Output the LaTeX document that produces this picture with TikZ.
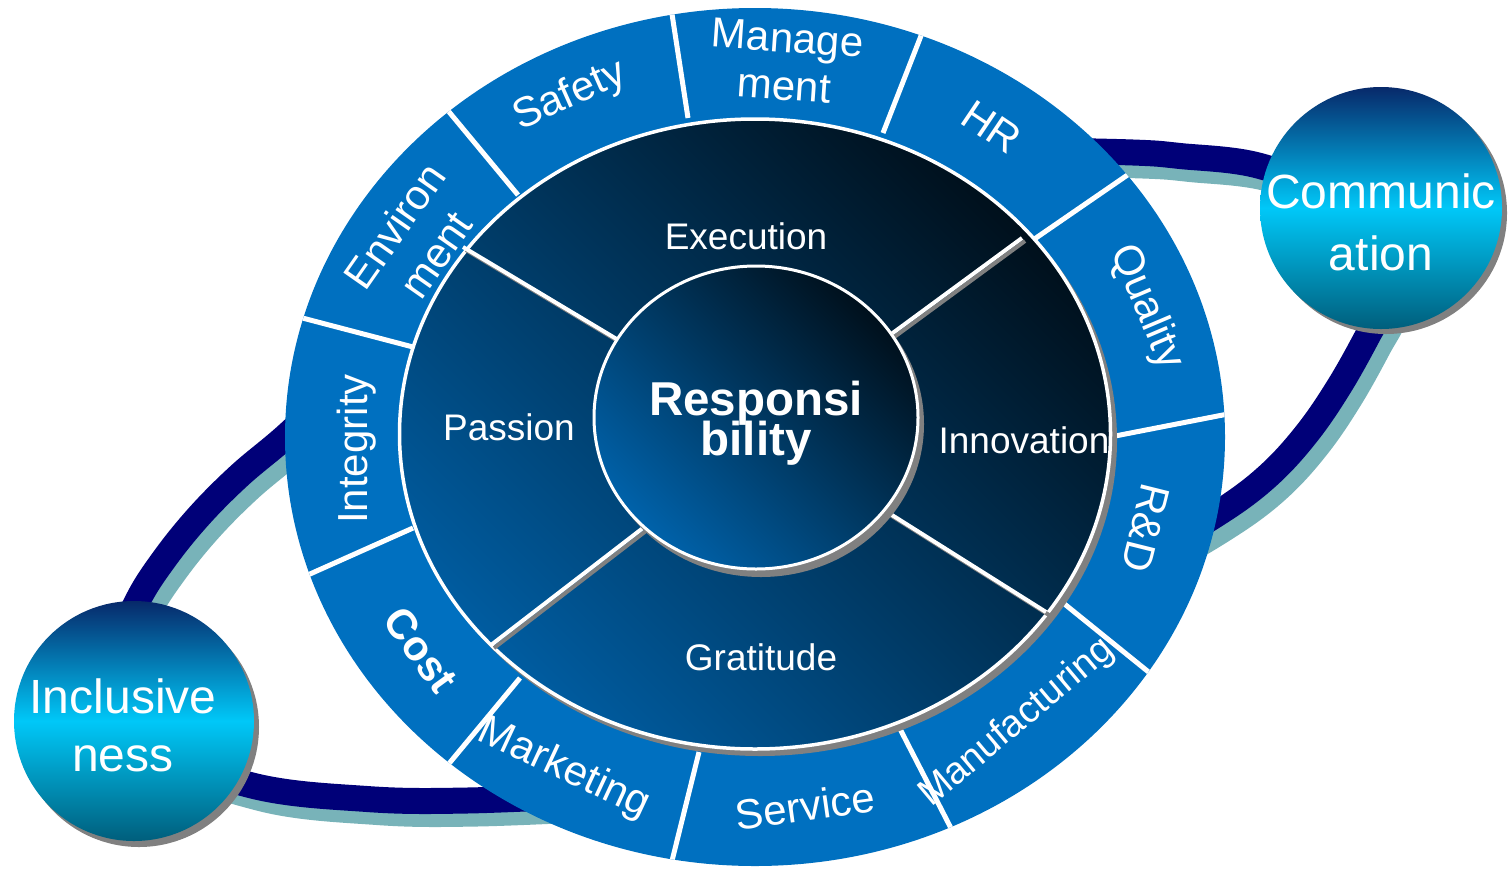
\documentclass[tikz,border=0pt]{standalone}
\usepackage{fontspec}
\setmainfont{Liberation Sans}
\definecolor{ringblue}{HTML}{0070C0}
\definecolor{navyband}{HTML}{000078}
\definecolor{tealshadow}{HTML}{78B3B9}
\definecolor{innerdark}{HTML}{00101C}
\definecolor{innerlight}{HTML}{005CA0}
\definecolor{centerlight}{HTML}{0062AA}
\definecolor{orbtop}{HTML}{07296A}
\definecolor{orbmid}{HTML}{00C8F8}
\definecolor{orbbot}{HTML}{005E7C}
\definecolor{shadowgray}{HTML}{808080}
\begin{document}
\begin{tikzpicture}[x=1pt,y=-1pt,
  ringlbl/.style={text=white, font=\fontsize{42}{48}\selectfont, align=center, inner sep=0pt},
  innerlbl/.style={text=white, font=\fontsize{37}{40}\selectfont, inner sep=0pt},
  orblbl/.style={text=white, align=center, inner sep=0pt},
  ringsep/.style={white, line width=5pt},
  divider/.style={white, line width=4pt},
  dividershadow/.style={shadowgray, line width=4pt},
  band/.style={line width=26pt, draw=navyband},
  bandshadow/.style={line width=26pt, draw=tealshadow},
  orbfill/.style={top color=orbtop, bottom color=orbbot, middle color=orbmid},
]
\useasboundingbox (0,0) rectangle (1509,868);

% orbit band (shadow, then band)
\draw[bandshadow, shift={(10,13)}] plot[smooth, tension=0.6] coordinates {(1020,150) (1133,152.5) (1180,156) (1260,166) (1340,200) (1385,255) (1385,300) (1368,335) (1340,385) (1308,432) (1270,474) (1223,510) (1150,552) (1050,595)};
\draw[bandshadow, shift={(10,13)}] plot[smooth, tension=0.6] coordinates {(330,395) (284,438) (240,475) (200,515) (165,558) (137,602) (115,660) (140,740) (250,785) (367,799) (467,800.5) (600,795)};
\draw[band] plot[smooth, tension=0.6] coordinates {(1020,150) (1133,152.5) (1180,156) (1260,166) (1340,200) (1385,255) (1385,300) (1368,335) (1340,385) (1308,432) (1270,474) (1223,510) (1150,552) (1050,595)};
\draw[band] plot[smooth, tension=0.6] coordinates {(330,395) (284,438) (240,475) (200,515) (165,558) (137,602) (115,660) (140,740) (250,785) (367,799) (467,800.5) (600,795)};

% outer ring
\fill[ringblue] (755,437) ellipse [x radius=470, y radius=429];
\begin{scope}
\clip (755,437) ellipse [x radius=470, y radius=429];
\draw[ringsep] (688,118) -- (670,1);
\draw[ringsep] (883,133) -- (926,23);
\draw[ringsep] (1033,240) -- (1142,165);
\draw[ringsep] (1110,437) -- (1233,413);
\draw[ringsep] (1062,602) -- (1156,678);
\draw[ringsep] (898,725) -- (956,838);
\draw[ringsep] (699,752) -- (669,873);
\draw[ringsep] (520,678) -- (442,772);
\draw[ringsep] (413,528) -- (301,578);
\draw[ringsep] (413,347) -- (291,315);
\draw[ringsep] (518,195) -- (440,101);
\end{scope}

% inner ellipse
\fill[shadowgray] (760,440) ellipse [x radius=357, y radius=316];
\shadedraw[top color=innerdark, bottom color=innerlight, shading angle=-45, draw=white, line width=3.5pt] (755,434) ellipse [x radius=355.5, y radius=315];

% dividers
\draw[dividershadow, shift={(3,3)}] (463,247) -- (650,359);
\draw[dividershadow, shift={(3,3)}] (1022,238) -- (860,357);
\draw[dividershadow, shift={(3,3)}] (1046,612) -- (865,498);
\draw[dividershadow, shift={(3,3)}] (491,645) -- (665,511);
\draw[divider] (463,247) -- (650,359);
\draw[divider] (1022,238) -- (860,357);
\draw[divider] (1046,612) -- (865,498);
\draw[divider] (491,645) -- (665,511);

% center circle
\fill[shadowgray] (761,424) ellipse [x radius=163, y radius=153];
\shadedraw[top color=innerdark, bottom color=centerlight, shading angle=-45, draw=white, line width=3pt] (756,417.5) ellipse [x radius=162, y radius=151.5];

% orbit circles
\fill[shadowgray] (1386,213) circle [radius=121];
\shade[orbfill] (1381,208) circle [radius=121];
\fill[shadowgray] (139,727) circle [radius=120];
\shade[orbfill] (134,721) circle [radius=120];

% texts
\node[text=white, align=center, inner sep=0pt, font={\bfseries\fontsize{47.5}{40}\selectfont\lineskiplimit=-100pt\relax}] (resp) at (756,423) {Responsi\\bility};
\node[innerlbl] (exec) at (746,236) {Execution};
\node[innerlbl] (passion) at (509,427) {Passion};
\node[innerlbl] (innov) at (1024,440) {Innovation};
\node[innerlbl] (grat) at (761,657) {Gratitude};

\node[ringlbl, rotate=-4] (mgmt) at (786,62) {Manage\\ment};
\node[ringlbl, rotate=24] (safety) at (570,96) {Safety};
\node[ringlbl, rotate=-34] (hr) at (992,127) {HR};
\node[ringlbl, rotate=-67] (quality) at (1146,307) {Quality};
\node[ringlbl, rotate=-104] (rd) at (1146,528) {R\&D};
\node[ringlbl, rotate=40, font=\fontsize{38}{44}\selectfont] (manu) at (1017,723) {Manufacturing};
\node[ringlbl, rotate=8] (service) at (805,806) {Service};
\node[ringlbl, rotate=-25] (marketing) at (564,769) {Marketing};
\node[ringlbl, rotate=-54, font=\bfseries\fontsize{42}{48}\selectfont] (cost) at (421,650) {Cost};
\node[ringlbl, rotate=90] (integrity) at (357,449) {Integrity};
\node[ringlbl, rotate=55, font=\fontsize{42}{50}\selectfont] (env) at (415,240) {Environ\\ment};

\node[orblbl, font=\fontsize{48}{62}\selectfont] (comm) at (1381,222) {Communic\\ation};
\node[orblbl, font=\fontsize{48}{58}\selectfont] (incl) at (123,725) {Inclusive\\ness};
\end{tikzpicture}
\end{document}
